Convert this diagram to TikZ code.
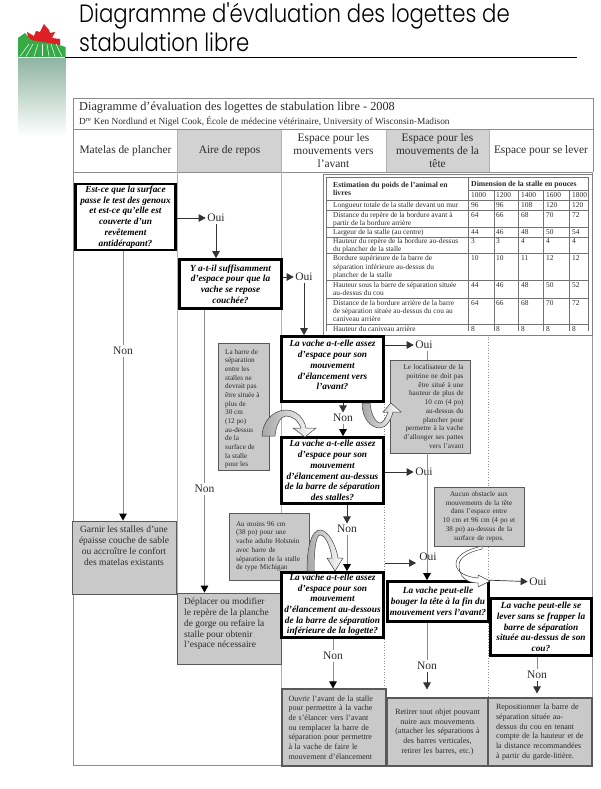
\documentclass[tikz,border=0pt]{standalone}
\usepackage{fontspec}
\setmainfont{Liberation Serif}
\newfontfamily\titlefont[FakeStretch=0.85]{Poppins Light}
\usetikzlibrary{arrows.meta}
\definecolor{notegray}{HTML}{C9C9C9}
\definecolor{headgray}{HTML}{D2D2D2}
\definecolor{rulegray}{HTML}{8C8C8C}
\definecolor{inkgray}{HTML}{2A2A2A}
\definecolor{leafred}{HTML}{DD1F26}
\definecolor{hillgreen}{HTML}{35AA45}
\definecolor{bandgreen}{HTML}{8FB5A3}
\tikzset{
  question/.style={draw=black,line width=2.6pt,fill=white,align=center,inner sep=0pt,
    font=\fontsize{9.3}{10.7}\selectfont\bfseries\itshape},
  note/.style={draw=black!65,line width=0.8pt,fill=notegray,inner sep=0pt,text=inkgray},
  answer/.style={font=\fontsize{11.5}{13}\selectfont,inner sep=1.5pt,text=inkgray},
  head/.style={inner sep=0pt,align=center,font=\fontsize{11.4}{13}\selectfont,text=inkgray},
  cell/.style={inner sep=0pt,anchor=north west,align=left,text=inkgray,
    font=\fontsize{7.4}{8.3}\selectfont},
  arr/.style={-{Triangle[length=7pt,width=7.5pt]},line width=0.7pt,black!80},
  grayarr/.style={-{Triangle[length=7pt,width=7.5pt,color=black]},line width=1pt,black!45},
  grayline/.style={line width=1pt,black!45},
  bendarr/.style={draw=black!75,line width=0.5pt,left color=black!35,right color=white}
}
\begin{document}
\begin{tikzpicture}[x=1pt,y=-1pt]
  \useasboundingbox (0,0) rectangle (600,789);

  % logo
  \shade[top color=bandgreen,bottom color=white,draw=none] (18,58.5) rectangle (65.5,136);
  \fill[leafred] (44,24) -- (49,30) -- (50,33) -- (55,32) -- (52,38) -- (60,39) -- (60,48)
    -- (30,48) -- (27,32) -- (34,36) -- (36,31) -- (40,32) -- cycle;
  \fill[hillgreen] (18,57) -- (18,38) -- (25,33) -- (31,40) .. controls (40,42) and (55,43) .. (65.5,47)
    -- (65.5,57) -- cycle;
  \foreach \x/\z in {20/29,26/33,34/38,42/42,49/47,55/51,62/56}
  \draw[white,line width=0.5pt] (\x,56.5) -- (\z,44);

  % title
  \node (titleA) at (79,15.5) [anchor=west,inner sep=0pt] {\titlefont\fontsize{25}{30}\selectfont Diagramme d'évaluation des logettes de};
  \node (titleB) at (79,42.5) [anchor=west,inner sep=0pt] {\titlefont\fontsize{25}{30}\selectfont stabulation libre};
  \draw[line width=0.9pt] (65,57.5) -- (577,57.5);

  % frame and columns
  \fill[headgray] (178,129.5) rectangle (281,172);
  \fill[headgray] (386,129.5) rectangle (489,172);
  \draw[rulegray,line width=0.8pt] (73,98.5) -- (593,98.5) -- (593,172);
  \draw[rulegray,line width=0.8pt] (73,129.5) -- (593,129.5);
  \draw[rulegray,line width=0.8pt] (73,172) -- (593,172);
  \draw[rulegray,line width=0.9pt] (73,98.5) -- (73,765) -- (282,765);
  \draw[black!30,line width=0.8pt] (177.5,129.5) -- (177.5,593);
  \draw[black!30,line width=0.8pt] (281,129.5) -- (281,689);
  \draw[black!45,dotted,line width=0.7pt] (384.5,172) -- (384.5,698);
  \draw[black!45,dotted,line width=0.7pt] (488.5,172) -- (488.5,698);
  \draw[black!40,line width=0.9pt] (592,172) -- (592,698);
  \draw[black!30,line width=0.8pt] (386,129.5) -- (386,172);
  \draw[black!30,line width=0.8pt] (489,129.5) -- (489,172);

  \node (mainT) at (79,108) [anchor=west,inner sep=0pt,text=inkgray] {\fontsize{12.3}{14}\selectfont Diagramme d’évaluation des logettes de stabulation libre - 2008};
  \node (subT) at (79,122) [anchor=west,inner sep=0pt,text=inkgray] {\fontsize{9.3}{10}\selectfont D\textsuperscript{re} Ken Nordlund et Nigel Cook, École de médecine vétérinaire, University of Wisconsin-Madison};
  \node (headA) at (125.5,151) [head] {Matelas de plancher};
  \node (headB) at (229.5,151) [head] {Aire de repos};
  \node (headC) at (333.5,151) [head] {Espace pour les\\mouvements vers\\l'avant};
  \node (headD) at (437.5,151) [head] {Espace pour les\\mouvements de la\\tête};
  \node (headE) at (541,151) [head] {Espace pour se lever};

  % dimension table
  \draw[black!50,fill=white,line width=0.8pt] (323,174) rectangle (592,335);
  \draw[black!55,line width=0.5pt] (326,177) rectangle (588,332);
  \foreach \y in {200,210,227,237,253,280,298,324}
  \draw[black!55,line width=0.5pt] (326,\y) -- (588,\y);
  \draw[black!55,line width=0.5pt] (468,190) -- (588,190);
  \draw[black!55,line width=0.5pt] (468,177) -- (468,332);
  \foreach \x in {494,518.5,543,569}
  \draw[black!55,line width=0.5pt] (\x,190) -- (\x,332);
  \node (weightH) at (333,181.5) [cell,font=\fontsize{7.7}{8.5}\selectfont\bfseries] {Estimation du poids de l'animal en\\livres};
  \node (dimH) at (471,181) [cell,font=\fontsize{7.7}{8.8}\selectfont\bfseries] {Dimension de la stalle en pouces};
  \foreach \x/\v in {471/1000,496/1200,521/1400,546/1600,572/1800}
  \node (w\v) at (\x,192.5) [cell] {\v};
  \foreach \n/\y/\txt/\a/\b/\c/\d/\e in {
    a/202/{Longueur totale de la stalle devant un mur}/96/96/108/120/120,
    b/212/{Distance du repère de la bordure avant à\\partir de la bordure arrière}/64/66/68/70/72,
    c/229/{Largeur de la stalle (au centre)}/44/46/48/50/54,
    d/238/{Hauteur du repère de la bordure au-dessus\\du plancher de la stalle}/3/3/4/4/4,
    e/255.5/{Bordure supérieure de la barre de\\séparation inférieure au-dessus du\\plancher de la stalle}/10/10/11/12/12,
    f/282/{Hauteur sous la barre de séparation située\\au-dessus du cou}/44/46/48/50/52,
    g/300/{Distance de la bordure arrière de la barre\\de séparation située au-dessus du cou au\\caniveau arrière}/64/66/68/70/72,
    h/326/{Hauteur du caniveau arrière}/8/8/8/8/8}{
    \node (row\n) at (333,\y) [cell] {\txt};
    \node (row\n A) at (471,\y) [cell] {\a};
    \node (row\n B) at (496,\y) [cell] {\b};
    \node (row\n C) at (521,\y) [cell] {\c};
    \node (row\n D) at (546,\y) [cell] {\d};
    \node (row\n E) at (572,\y) [cell] {\e};
  }
  \fill[white] (325,331) rectangle (591.5,334.4);

  % answers
  \node (ouiA) at (216,218) [answer] {Oui};
  \node (ouiB) at (304,277) [answer] {Oui};
  \node (ouiC) at (424,345) [answer] {Oui};
  \node (ouiD) at (424,472) [answer] {Oui};
  \node (ouiE) at (428,557) [answer] {Oui};
  \node (ouiF) at (538,582) [answer] {Oui};
  \node (nonA) at (123,351) [answer] {Non};
  \node (nonB) at (204.5,489) [answer] {Non};
  \node (nonC) at (343,418) [answer] {Non};
  \node (nonD) at (347,529) [answer] {Non};
  \node (nonE) at (333,656) [answer] {Non};
  \node (nonF) at (427,666) [answer] {Non};
  \node (nonG) at (537,675) [answer] {Non};
  \coordinate (ouiEend) at (416,563);
  \coordinate (ouiCdown) at (427,360);

  % notes
  \node (noteA) at (243.5,406.5) [note,minimum width=51pt,minimum height=127pt,anchor=center] {};
  \node (noteAtxt) at (225,349) [anchor=north west,inner sep=0pt,align=left,text=inkgray,font=\fontsize{7.2}{8.65}\selectfont]
    {La barre de\\séparation\\entre les\\stalles ne\\devrait pas\\être située à\\plus de\\30 cm\\(12 po)\\au-dessus\\de la\\surface de\\la stalle\\pour les};
  \node (noteB) at (430,406.5) [note,minimum width=80pt,minimum height=93pt,text width=67pt,align=right,font=\fontsize{7.2}{8.75}\selectfont]
    {Le localisateur de la\\poitrine ne doit pas\\être situé à une\\hauteur de plus de\\10 cm (4 po)\\au-dessus du\\plancher pour\\permetre à la vache\\d'allonger ses pattes\\vers l'avant};
  \node (noteC) at (269,546.5) [note,minimum width=80pt,minimum height=67pt,text width=66pt,align=left,font=\fontsize{7.2}{8.75}\selectfont]
    {Au moins 96 cm\\(38 po) pour une\\vache adulte Holstein\\avec barre de\\séparation de la stalle\\de type Michigan};
  \node (noteD) at (479,516.5) [note,minimum width=90pt,minimum height=59pt,text width=86pt,align=center,font=\fontsize{7.2}{8.75}\selectfont]
    {Aucun obstacle aux\\mouvements de la tête\\dans l'espace entre\\10 cm et 96 cm (4 po et\\38 po) au-dessus de la\\surface de repos.};
  \node (fixA) at (124,557.5) [note,minimum width=104pt,minimum height=73pt] {};
  \node (fixAtxt) at (124,546) [inner sep=0pt,align=center,text=inkgray,font=\fontsize{9.5}{10.9}\selectfont]
    {Garnir les stalles d'une\\épaisse couche de sable\\ou accroître le confort\\des matelas existants};
  \node (fixB) at (229,628.5) [note,minimum width=104pt,minimum height=71pt] {};
  \node (fixBtxt) at (184,624) [anchor=west,inner sep=0pt,align=left,text=inkgray,font=\fontsize{9.4}{10.8}\selectfont]
    {Déplacer ou modifier\\le repère de la planche\\de gorge ou refaire la\\stalle pour obtenir\\l'espace nécessaire};
  \node (fixC) at (334,727.5) [note,minimum width=104pt,minimum height=77pt,line width=1.1pt,text width=91pt,align=left,font=\fontsize{8}{9.7}\selectfont]
    {Ouvrir l'avant de la stalle\\pour permettre à la vache\\de s'élancer vers l'avant\\ou remplacer la barre de\\séparation pour permettre\\à la vache de faire le\\mouvement d'élancement};
  \node (fixD) at (437.5,732) [note,minimum width=101pt,minimum height=68pt,line width=1.1pt,text width=96pt,align=center,font=\fontsize{8}{9.7}\selectfont]
    {Retirer tout objet pouvant\\nuire aux mouvements\\(attacher les séparations à\\des barres verticales,\\retirer les barres, etc.)\\[-2pt]};
  \node (fixE) at (540,732) [note,minimum width=104pt,minimum height=68pt,line width=1.1pt,text width=88pt,align=left,font=\fontsize{8}{9.7}\selectfont]
    {Repositionner la barre de\\séparation située au-\\dessus du cou en tenant\\compte de la hauteur et de\\la distance recommandées\\à partir du garde-litière.};

  % questions
  \node (qA) at (125.5,217) [question,minimum width=100pt,minimum height=66pt] {Est-ce que la surface\\passe le test des genoux\\et est-ce qu'elle est\\couverte d'un\\revêtement\\antidérapant?};
  \node (qB) at (230.5,284) [question,minimum width=102pt,minimum height=49pt] {Y a-t-il suffisamment\\d'espace pour que la\\vache se repose\\couchée?};
  \node (qC) at (332.5,369) [question,minimum width=102pt,minimum height=65pt] {La vache a-t-elle assez\\d'espace pour son\\mouvement\\d'élancement vers\\l'avant?\\[-3pt]};
  \node (qD) at (332.5,470.5) [question,minimum width=102pt,minimum height=66pt] {La vache a-t-elle assez\\d'espace pour son\\mouvement\\d'élancement au-dessus\\de la barre de séparation\\des stalles?};
  \node (qE) at (332.5,605) [question,minimum width=102pt,minimum height=65pt] {La vache a-t-elle assez\\d'espace pour son\\mouvement\\d'élancement au-dessous\\de la barre de séparation\\inférieure de la logette?};
  \node (qF) at (438,601.5) [question,minimum width=101pt,minimum height=40pt] {La vache peut-elle\\bouger la tête à la fin du\\mouvement vers l'avant?};
  \node (qG) at (541,627) [question,minimum width=101pt,minimum height=57pt] {La vache peut-elle se\\lever sans se frapper la\\barre de séparation\\située au-dessus de son\\cou?};

  % connectors, oui side
  \draw[arr] (qA.east |- ouiA) -- (ouiA);
  \draw[arr] (ouiA) -- (ouiA |- qB.north);
  \draw[arr] (qB.east |- ouiB) -- (ouiB);
  \draw[arr] (ouiB) -- (ouiB |- qC.north);
  \draw[arr] (qC.east |- ouiC) -- (ouiC);
  \draw[grayline] (ouiCdown |- ouiC.south) -- (ouiCdown |- noteB.north);
  \draw[arr] (qD.east |- ouiD) -- (ouiD);
  \draw[grayarr] (ouiCdown |- noteB.south) -- (ouiCdown |- qF.north);
  \draw[arr] (qE.east |- ouiEend) -- (ouiEend);
  \draw[arr] (qF.north east) -- (ouiF);

  % connectors, non side
  \draw[grayline] (nonA |- qA.south) -- (nonA);
  \draw[grayarr] (nonA) -- (nonA |- fixA.north);
  \draw[grayline] (nonB |- qB.south) -- (nonB);
  \draw[grayarr] (nonB) -- (nonB |- fixB.north);
  \draw[arr] (nonC |- qC.south) -- (nonC);
  \draw[grayarr] (nonC) -- (nonC |- qD.north);
  \draw[arr] (nonD |- qD.south) -- (nonD);
  \draw[grayarr] (nonD) -- (nonD |- qE.north);
  \draw[grayline] (nonE |- qE.south) -- (nonE);
  \draw[grayarr] (nonE) -- (nonE |- fixC.north);
  \draw[grayline] (nonF |- qF.south) -- (nonF);
  \draw[arr,shorten >=8pt] (nonF) -- (nonF |- fixD.north);
  \draw[grayline] (nonG |- qG.south) -- (nonG);
  \draw[arr,shorten >=4pt] (nonG) -- (nonG |- fixE.north);

  % bent arrows
  \path[bendarr] (262,436) .. controls (263,418) and (276,410) .. (286,410)
    .. controls (296,410) and (304,418) .. (306,428) -- (316,428) -- (305,437) -- (293,428) -- (301,428)
    .. controls (298,420) and (292,416) .. (286,416) .. controls (281,416) and (276,424) .. (275,436) -- cycle;
  \path[bendarr] (362,403) .. controls (362,420) and (372,428) .. (380,428)
    .. controls (386,428) and (391,420) .. (393,412) -- (401,412) -- (391,403) -- (383,412) -- (388,412)
    .. controls (386,418) and (383,423) .. (380,423) .. controls (376,423) and (371,415) .. (370,403) -- cycle;
  \path[bendarr] (307,571) .. controls (307,545) and (312,530) .. (320,530)
    .. controls (328,530) and (336,545) .. (338,558) -- (343,558) -- (335,571) -- (327,558) -- (332,558)
    .. controls (330,545) and (325,535) .. (320,535) .. controls (316,535) and (314,550) .. (314,571) -- cycle;
  \draw[black!75,line width=0.5pt,fill=white] (482,546) .. controls (465,550) and (456,556) .. (456,564)
    .. controls (456,572) and (466,577) .. (478,578) -- (478,575) -- (490,581) -- (478,587) -- (478,583)
    .. controls (465,583) and (459,575) .. (459,565) .. controls (459,558) and (468,552) .. (482,549) -- cycle;

\end{tikzpicture}
\end{document}
